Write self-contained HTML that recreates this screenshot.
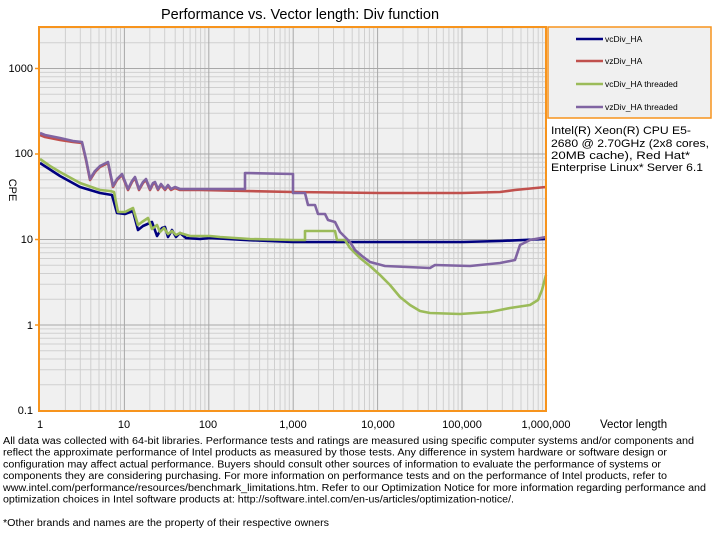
<!DOCTYPE html>
<html><head><meta charset="utf-8"><style>
html,body{margin:0;padding:0;background:#fff;width:712px;height:546px;overflow:hidden}
svg{display:block;font-family:"Liberation Sans",Arial,sans-serif}
</style></head><body>
<svg width="712" height="546" xmlns="http://www.w3.org/2000/svg">
<text x="300" y="19" font-size="14.5" text-anchor="middle" fill="#000">Performance vs. Vector length: Div function</text>
<rect x="39" y="27" width="507" height="384" fill="#f0f0f0"/>
<path fill="none" stroke="#cfcfcf" stroke-width="1" d="
M65.4 27V411M80.3 27V411M90.8 27V411M99 27V411M105.7 27V411M111.3 27V411M116.2 27V411M120.5 27V411
M149.8 27V411M164.7 27V411M175.2 27V411M183.4 27V411M190.1 27V411M195.7 27V411M200.6 27V411M204.9 27V411
M234.2 27V411M249.1 27V411M259.6 27V411M267.8 27V411M274.5 27V411M280.1 27V411M285 27V411M289.3 27V411
M318.6 27V411M333.5 27V411M344 27V411M352.2 27V411M358.9 27V411M364.5 27V411M369.4 27V411M373.7 27V411
M403 27V411M417.9 27V411M428.4 27V411M436.6 27V411M443.3 27V411M448.9 27V411M453.8 27V411M458.1 27V411
M487.4 27V411M502.3 27V411M512.8 27V411M521 27V411M527.7 27V411M533.3 27V411M538.2 27V411M542.5 27V411
M39 384.8H546M39 369.7H546M39 359H546M39 350.7H546M39 344H546M39 338.2H546M39 333.3H546M39 328.9H546
M39 299.3H546M39 284.2H546M39 273.5H546M39 265.2H546M39 258.5H546M39 252.7H546M39 247.8H546M39 243.4H546
M39 213.8H546M39 198.7H546M39 188H546M39 179.7H546M39 173H546M39 167.2H546M39 162.3H546M39 157.9H546
M39 128.3H546M39 113.2H546M39 102.5H546M39 94.2H546M39 87.5H546M39 81.7H546M39 76.8H546M39 72.4H546
M39 42.8H546M39 27.7H546"/>
<path fill="none" stroke="#a8a8a8" stroke-width="1" d="M124.4 27V411M208.8 27V411M293.2 27V411M377.6 27V411M462 27V411M39 325H546M39 239.5H546M39 154H546M39 68.5H546"/>
<g fill="none" stroke-width="2.6" stroke-linejoin="round">
<polyline stroke="#c0504d" points="40,135 45,137 60,140 73,142 82,143 86,160 90,180 95,172 100,167 108,163 113,187 117,180 122,175 128,190 132,182 135,178 139,190 143,183 146,180 150,190 153,184 155,183 158,190 161,185 165,190 168,186 171,190 175,188 180,190 200,190 245,191 293,192 380,193 462,193 500,192 515,190 546,187"/>
<polyline stroke="#00007f" points="40,163 60,176 80,187 100,193 112,195 117,213 125,214 133,211 138,230 143,226 152,222 157,236 162,228 165,227 168,237 172,230 176,237 180,233 186,238 200,239 210,238 245,240 293,242 380,242 462,242 500,241 546,239"/>
<polyline stroke="#9bbb59" points="40,159 50,166 60,172 80,183 100,190 110,191 114,192 118,212 125,212 133,208 138,225 142,222 148,218 152,229 157,225 160,232 164,228 168,234 172,231 176,235 180,233 190,236 200,236 210,236 220,237 250,239 293,240 305,240 305,231 335,231 337,240 345,240 350,248 360,258 370,266 380,275 390,285 400,297 410,305 420,311 430,313 460,314 490,312 510,308 530,305 538,300 542,290 546,275"/>
<polyline stroke="#8064a2" points="40,133 45,135 60,138 73,141 82,142 86,159 90,179 95,171 100,166 108,162 113,186 117,179 122,174 128,189 132,181 135,177 139,189 143,182 146,179 150,189 153,183 155,182 158,189 161,184 165,189 168,185 171,189 175,187 180,189 200,189 245,189 245,173 293,174 293,193 305,193 308,205 315,205 318,214 325,214 328,220 335,222 340,232 345,237 350,242 355,250 362,256 370,262 385,266 430,268 435,265 470,266 500,263 515,260 520,245 530,240 546,237"/>
</g>
<rect x="39" y="27" width="507" height="384" fill="none" stroke="#f7941d" stroke-width="2"/>
<g font-size="11" fill="#000" text-anchor="end">
<text x="33" y="72">1000</text><text x="33" y="157">100</text><text x="33" y="243">10</text><text x="33" y="329">1</text><text x="33" y="414">0.1</text>
</g>
<g stroke="#f7941d" stroke-width="1.5"><line x1="35" y1="68.5" x2="39" y2="68.5"/><line x1="35" y1="154" x2="39" y2="154"/><line x1="35" y1="239.5" x2="39" y2="239.5"/><line x1="35" y1="325" x2="39" y2="325"/></g>
<text x="0" y="0" font-size="11" transform="translate(9,190) rotate(90)" text-anchor="middle">CPE</text>
<g font-size="11" fill="#000" text-anchor="middle">
<text x="40" y="428">1</text><text x="124" y="428">10</text><text x="208" y="428">100</text><text x="293" y="428">1,000</text><text x="378" y="428">10,000</text><text x="462" y="428">100,000</text><text x="546" y="428">1,000,000</text>
</g>
<text x="600" y="428" font-size="11.5">Vector length</text>
<rect x="548" y="27" width="163" height="91" fill="#f0f0f0" stroke="#f7941d" stroke-width="1.5"/>
<g stroke-width="2.5"><line x1="576" y1="39" x2="603" y2="39" stroke="#00007f"/><line x1="576" y1="61" x2="603" y2="61" stroke="#c0504d"/><line x1="576" y1="84" x2="603" y2="84" stroke="#9bbb59"/><line x1="576" y1="107" x2="603" y2="107" stroke="#8064a2"/></g>
<g font-size="8.5" fill="#000"><text x="605" y="42">vcDiv_HA</text><text x="605" y="64">vzDiv_HA</text><text x="605" y="87">vcDiv_HA threaded</text><text x="605" y="110">vzDiv_HA threaded</text></g>
<g font-size="11" fill="#000">
<text x="551" y="134" textLength="140" lengthAdjust="spacingAndGlyphs">Intel(R) Xeon(R) CPU E5-</text>
<text x="551" y="147" textLength="158" lengthAdjust="spacingAndGlyphs">2680 @ 2.70GHz (2x8 cores,</text>
<text x="551" y="159" textLength="139" lengthAdjust="spacingAndGlyphs">20MB cache), Red Hat*</text>
<text x="551" y="171" textLength="152" lengthAdjust="spacingAndGlyphs">Enterprise Linux* Server 6.1</text>
</g>
<g font-size="10" fill="#000">
<text x="3" y="444" textLength="691" lengthAdjust="spacingAndGlyphs">All data was collected with 64-bit libraries. Performance tests and ratings are measured using specific computer systems and/or components and</text>
<text x="3" y="455.7" textLength="664" lengthAdjust="spacingAndGlyphs">reflect the approximate performance of Intel products as measured by those tests. Any difference in system hardware or software design or</text>
<text x="3" y="467.4" textLength="658" lengthAdjust="spacingAndGlyphs">configuration may affect actual performance. Buyers should consult other sources of information to evaluate the performance of systems or</text>
<text x="3" y="479.1" textLength="664" lengthAdjust="spacingAndGlyphs">components they are considering purchasing. For more information on performance tests and on the performance of Intel products, refer to</text>
<text x="3" y="490.8" textLength="703" lengthAdjust="spacingAndGlyphs">www.intel.com/performance/resources/benchmark_limitations.htm. Refer to our Optimization Notice for more information regarding performance and</text>
<text x="3" y="502.5" textLength="511" lengthAdjust="spacingAndGlyphs">optimization choices in Intel software products at: http://software.intel.com/en-us/articles/optimization-notice/.</text>
<text x="3" y="525.9" textLength="326" lengthAdjust="spacingAndGlyphs">*Other brands and names are the property of their respective owners</text>
</g>
</svg>
</body></html>
